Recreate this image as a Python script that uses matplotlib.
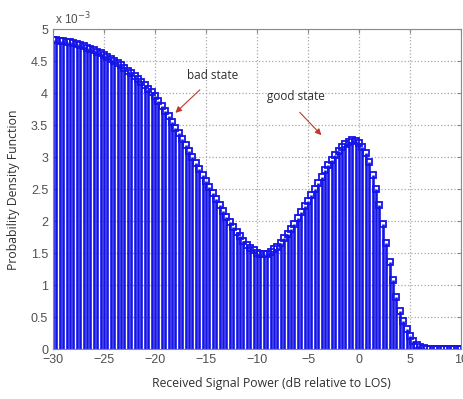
import numpy as np
import matplotlib
matplotlib.use("Agg")
import matplotlib.pyplot as plt
from matplotlib.ticker import FormatStrFormatter

# received power grid (dB relative to LOS), one stem every 1/3 dB
power_db = np.linspace(-30, 10, 121)

# pdf values, in units of 1e-3
pdf_e3 = [
    4.83, 4.83, 4.82,  4.81, 4.80, 4.79,  4.78, 4.76, 4.75,  4.73, 4.71, 4.69,
    4.67, 4.64, 4.62,  4.59, 4.56, 4.53,  4.50, 4.47, 4.43,  4.39, 4.35, 4.31,
    4.27, 4.22, 4.17,  4.12, 4.06, 4.01,  3.95, 3.88, 3.80,  3.72, 3.64, 3.55,
    3.46, 3.37, 3.28,  3.19, 3.10, 3.00,  2.91, 2.81, 2.72,  2.62, 2.53, 2.43,
    2.34, 2.25, 2.16,  2.07, 1.99, 1.91,  1.83, 1.76, 1.69,  1.63, 1.58, 1.54,
    1.50, 1.48, 1.48,  1.49, 1.52, 1.56,  1.60, 1.66, 1.73,  1.80, 1.88, 1.96,
    2.05, 2.14, 2.23,  2.32, 2.41, 2.50,  2.60, 2.69, 2.79,  2.88, 2.96, 3.03,
    3.10, 3.16, 3.21,  3.24, 3.26, 3.25,  3.22, 3.16, 3.06,  2.92, 2.72, 2.50,
    2.25, 1.96, 1.66,  1.36, 1.08, 0.82,  0.60, 0.44, 0.31,  0.20, 0.12, 0.07,
    0.035, 0.015, 0.006,  0.003, 0.002, 0.001,  0.001, 0.001, 0.001,
    0.001, 0.001, 0.001,  0.001,
]

xticks = [-30, -25, -20, -15, -10, -5, 0, 5, 10]
yticks = [0, 0.5, 1, 1.5, 2, 2.5, 3, 3.5, 4, 4.5, 5]

BLUE = "#1414e6"

fig = plt.figure(figsize=(4.63, 3.99), dpi=100)
ax = fig.add_axes([0.1145, 0.1253, 0.8812, 0.802])

ml, sl, bl = ax.stem(power_db, pdf_e3, linefmt="-", markerfmt="s", basefmt=" ")
sl.set_color(BLUE); sl.set_linewidth(1.9)
ml.set_markerfacecolor("none"); ml.set_markeredgecolor(BLUE)
ml.set_markersize(4.5); ml.set_markeredgewidth(1.3)

ax.set_xlim(-30, 10); ax.set_ylim(0, 5)
ax.set_xticks(xticks); ax.set_yticks(yticks)
ax.yaxis.set_major_formatter(FormatStrFormatter("%g"))
ax.grid(True, linestyle=":", color="#a8a8a8", linewidth=0.9)
ax.tick_params(direction="in", length=3, labelsize=9, colors="#8a8a8a",
               labelcolor="#505050", top=True, right=True)
for t in ax.get_xticklabels() + ax.get_yticklabels():
    t.set_family(["Liberation Sans", "DejaVu Sans"])
for s in ax.spines.values():
    s.set_color("#8a8a8a"); s.set_linewidth(0.8)

fig.text(55 / 463, 1 - 19 / 399, r"x 10$^{-3}$", fontsize=8.5, color="#505050",
         ha="left", va="center", family=["Liberation Sans", "DejaVu Sans"])

lab = dict(fontsize=8.8, color="#303030", family=["Open Sans", "DejaVu Sans"])
fig.text(271 / 463, 1 - 384 / 399, "Received Signal Power (dB relative to LOS)",
         ha="center", va="center", **lab)
fig.text(14 / 463, 1 - 190 / 399, "Probability Density Function",
         ha="center", va="center", rotation=90, **lab)

arrow = dict(arrowstyle="-|>", color="#c0392b", lw=0.8, mutation_scale=9)
ann = dict(fontsize=8.5, color="#303030", family=["Open Sans", "DejaVu Sans"])
ax.annotate("", xy=(-18.2, 3.66), xytext=(-15.4, 4.08), arrowprops=arrow)
ax.annotate("", xy=(-3.5, 3.31), xytext=(-6.0, 3.73), arrowprops=arrow)
ax.text(-14.4, 4.28, "bad state", ha="center", va="center", **ann)
ax.text(-6.2, 3.94, "good state", ha="center", va="center", **ann)

fig.savefig("out.png", dpi=100)
